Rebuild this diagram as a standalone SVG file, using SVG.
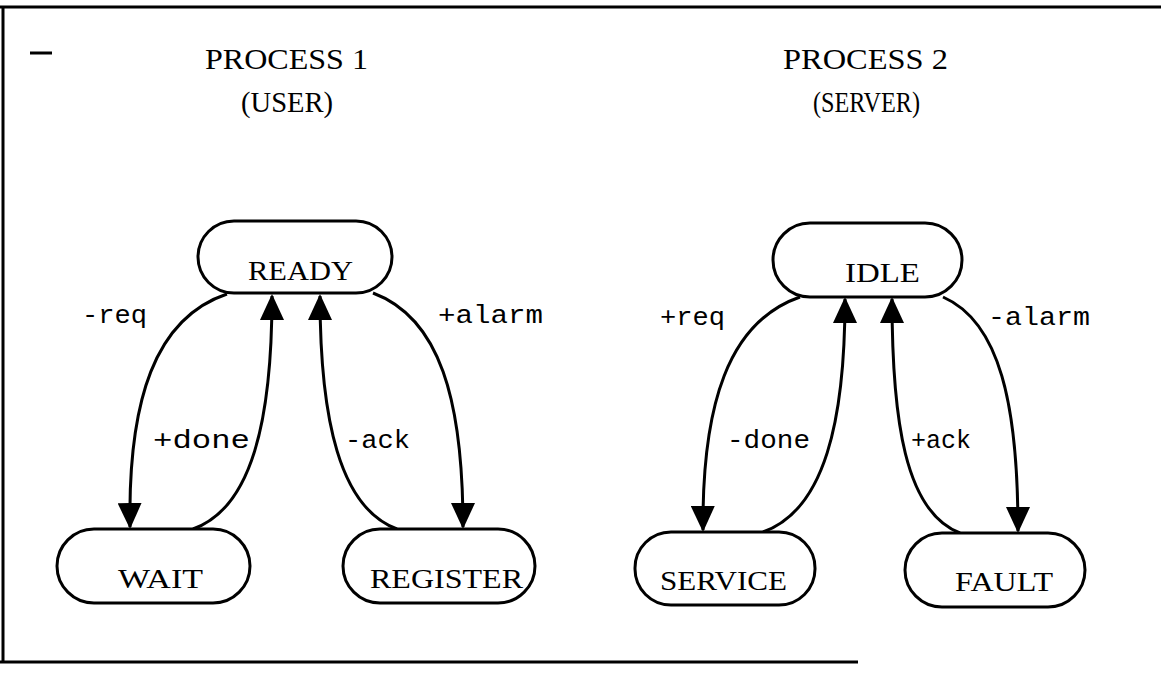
<svg xmlns="http://www.w3.org/2000/svg" width="1161" height="675" viewBox="0 0 1161 675">
<style>
.frame{fill:none;stroke:#000;stroke-width:3}
.node rect{fill:#fff;stroke:#000;stroke-width:3}
.nt{font-family:"Liberation Serif","Times New Roman",serif;font-size:28px;fill:#000}
.tt{font-family:"Liberation Serif","Times New Roman",serif;font-size:30px;fill:#000}
.lb{font-family:"Liberation Mono","Courier New",monospace;font-size:26px;fill:#000}
.edge{fill:none;stroke:#000;stroke-width:3}
</style>
<defs>
<marker id="ah" markerUnits="userSpaceOnUse" viewBox="0 0 26 24" markerWidth="26" markerHeight="24" refX="24" refY="12" orient="auto">
<path d="M0,0 L26,12 L0,24 z" fill="#000"/>
</marker>
</defs>
<rect width="1161" height="675" fill="#fff"/>
<g id="frame">
<line class="frame" x1="0" y1="7" x2="1161" y2="7"/>
<line class="frame" x1="3" y1="7" x2="3" y2="663"/>
<line class="frame" x1="0" y1="662" x2="858" y2="662"/>
<line class="frame" x1="30" y1="53" x2="52" y2="53" stroke-width="2"/>
</g>
<g id="titles">
<text class="tt" x="205" y="69" textLength="163" lengthAdjust="spacingAndGlyphs">PROCESS 1</text>
<text class="tt" x="241" y="112" textLength="92" lengthAdjust="spacingAndGlyphs">(USER)</text>
<text class="tt" x="783" y="69" textLength="165" lengthAdjust="spacingAndGlyphs">PROCESS 2</text>
<text class="tt" x="813" y="112" textLength="107" lengthAdjust="spacingAndGlyphs">(SERVER)</text>
</g>
<g id="connectors">
<path class="edge" d="M227,294 C155,318 128,400 130,527" marker-end="url(#ah)"/>
<path class="edge" d="M193,529 C252,508 272,420 272,296" marker-end="url(#ah)"/>
<path class="edge" d="M397,529 C340,508 320,420 320,296" marker-end="url(#ah)"/>
<path class="edge" d="M373,293 C440,318 463,400 463,527" marker-end="url(#ah)"/>
<path class="edge" d="M800,297 C728,322 702,405 703,530" marker-end="url(#ah)"/>
<path class="edge" d="M763,532 C825,510 845,420 845,299" marker-end="url(#ah)"/>
<path class="edge" d="M960,533 C905,512 892,420 892,299" marker-end="url(#ah)"/>
<path class="edge" d="M943,297 C1000,322 1018,405 1018,531" marker-end="url(#ah)"/>
<text class="lb" x="82" y="323" textLength="65" lengthAdjust="spacingAndGlyphs">-req</text>
<text class="lb" x="438" y="323" textLength="105" lengthAdjust="spacingAndGlyphs">+alarm</text>
<text class="lb" x="153" y="448" textLength="97" lengthAdjust="spacingAndGlyphs">+done</text>
<text class="lb" x="345" y="448" textLength="65" lengthAdjust="spacingAndGlyphs">-ack</text>
<text class="lb" x="660" y="325" textLength="65" lengthAdjust="spacingAndGlyphs">+req</text>
<text class="lb" x="988" y="325" textLength="102" lengthAdjust="spacingAndGlyphs">-alarm</text>
<text class="lb" x="727" y="448" textLength="83" lengthAdjust="spacingAndGlyphs">-done</text>
<text class="lb" x="911" y="448" textLength="60" lengthAdjust="spacingAndGlyphs">+ack</text>
</g>
<g id="ready" class="node">
<rect x="198" y="221" width="194" height="72" rx="36"/>
<text class="nt" x="248" y="280" textLength="105" lengthAdjust="spacingAndGlyphs">READY</text>
</g>
<g id="wait" class="node">
<rect x="57" y="529" width="193" height="74" rx="37"/>
<text class="nt" x="118" y="588" textLength="85" lengthAdjust="spacingAndGlyphs">WAIT</text>
</g>
<g id="register" class="node">
<rect x="343" y="529" width="192" height="74" rx="37"/>
<text class="nt" x="370" y="588" textLength="153" lengthAdjust="spacingAndGlyphs">REGISTER</text>
</g>
<g id="idle" class="node">
<rect x="773" y="223" width="189" height="74" rx="37"/>
<text class="nt" x="845" y="282" textLength="75" lengthAdjust="spacingAndGlyphs">IDLE</text>
</g>
<g id="service" class="node">
<rect x="635" y="532" width="180" height="73" rx="36"/>
<text class="nt" x="660" y="590" textLength="127" lengthAdjust="spacingAndGlyphs">SERVICE</text>
</g>
<g id="fault" class="node">
<rect x="905" y="533" width="180" height="74" rx="37"/>
<text class="nt" x="955" y="591" textLength="98" lengthAdjust="spacingAndGlyphs">FAULT</text>
</g>
</svg>
